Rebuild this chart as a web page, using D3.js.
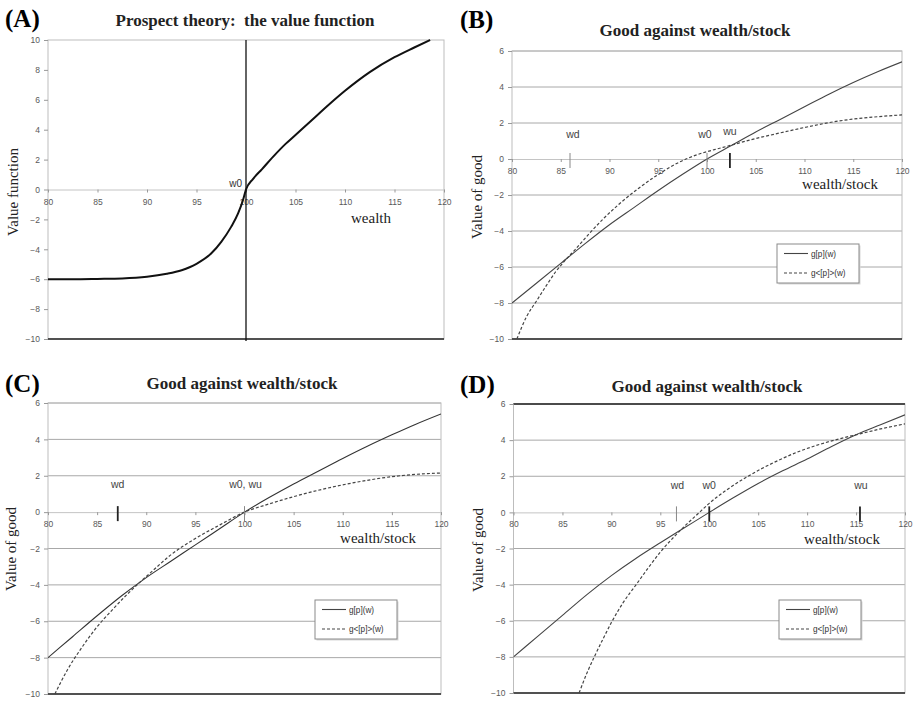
<!DOCTYPE html>
<html>
<head>
<meta charset="utf-8">
<script src="https://cdn.jsdelivr.net/npm/d3@7/dist/d3.min.js"></script>
<style>
  body { margin: 0; background: #fff; }
  svg { display: block; }
</style>
</head>
<body>
<svg id="fig" width="914" height="701"></svg>
<script>
// ---- data ----
var xTicks = [80, 85, 90, 95, 100, 105, 110, 115, 120];
var yTicksA = [-10, -8, -6, -4, -2, 0, 2, 4, 6, 8, 10];
var yTicksGood = [-10, -8, -6, -4, -2, 0, 2, 4, 6];

// (A) value function
var wealthA = [80, 82.5, 85, 87.5, 90, 92, 93.5, 94.3, 95, 96.5, 97.5, 98.5, 99.2, 99.7, 100, 100.7, 101.6, 102.75, 104, 105, 106.5, 108.5, 110, 112.5, 115, 117, 118.6];
var valueA = [-6, -6, -5.98, -5.95, -5.84, -5.64, -5.4, -5.2, -4.97, -4.27, -3.5, -2.5, -1.6, -0.7, 0, 0.7, 1.35, 2.2, 3.05, 3.65, 4.55, 5.75, 6.6, 7.85, 8.85, 9.5, 10];

// grid of wealth for the g[p](w) curves
var wealthGrid = [80, 82.5, 85, 87.5, 90, 92.5, 95, 97.5, 100, 102.5, 105, 107.5, 110, 112.5, 115, 117.5, 120];

// (B)
var goodB = [-8, -6.9, -5.8, -4.7, -3.65, -2.7, -1.75, -0.85, 0, 0.75, 1.5, 2.2, 2.9, 3.6, 4.25, 4.85, 5.4];
var avgWealthB = [80.5, 81.5, 82.5, 83.5, 84.5, 85.5, 86.5, 88, 89.5, 91, 93, 95, 97, 99, 100.75, 102.3, 104.5, 107.5, 110, 112.5, 115, 117.5, 120];
var avgGoodB = [-10, -8.75, -7.9, -7.05, -6.25, -5.6, -5.02, -4.1, -3.25, -2.5, -1.62, -0.86, -0.22, 0.24, 0.52, 0.74, 1.07, 1.45, 1.75, 2.02, 2.22, 2.35, 2.45];
var markerNamesB = ['wd', 'w0', 'wu'];
var markerWealthB = [85.95, 100, 102.35];

// (C)
var goodC = [-8, -6.85, -5.7, -4.6, -3.6, -2.7, -1.8, -0.9, 0, 0.8, 1.55, 2.25, 2.95, 3.62, 4.25, 4.85, 5.4];
var avgWealthC = [80.7, 82, 83.5, 85, 86.5, 88, 89.3, 90.5, 92.5, 95, 97.5, 100, 102.5, 105, 107.5, 110, 112.5, 115, 117.5, 120];
var avgGoodC = [-10, -8.65, -7.4, -6.3, -5.4, -4.55, -3.88, -3.3, -2.35, -1.45, -0.7, 0, 0.45, 0.85, 1.2, 1.5, 1.75, 1.95, 2.08, 2.15];
var markerNamesC = ['wd', 'w0, wu'];
var markerWealthC = [87.1, 100];

// (D)
var goodD = [-8, -6.85, -5.7, -4.55, -3.5, -2.55, -1.68, -0.84, 0, 0.82, 1.6, 2.3, 2.95, 3.65, 4.3, 4.85, 5.4];
var avgWealthD = [86.7, 87.5, 88.3, 89.2, 90, 91.2, 92.6, 93.8, 95.15, 96.5, 97.7, 98.9, 100, 101.8, 103.8, 106.6, 109.3, 111.5, 113.5, 115.4, 117.5, 120];
var avgGoodD = [-10, -8.9, -7.95, -6.95, -6.1, -5.0, -3.95, -3.05, -2.1, -1.3, -0.65, -0.05, 0.5, 1.25, 1.95, 2.76, 3.4, 3.8, 4.1, 4.35, 4.62, 4.9];
var markerNamesD = ['wd', 'w0', 'wu'];
var markerWealthD = [96.65, 100, 115.4];

var legendNames = ['g[p](w)', 'g<[p]>(w)'];

// ---- drawing ----
var svg = d3.select('#fig');
var SERIF = '"Liberation Serif", "Times New Roman", serif';
var SANS = '"Liberation Sans", Arial, sans-serif';

function zip(xs, ys) {
  return xs.map(function (v, i) { return [v, ys[i]]; });
}

function drawPanel(p) {
  var x = d3.scaleLinear().domain([80, 120]).range([p.x0, p.x1]);
  var y = d3.scaleLinear().domain(p.yDomain).range([p.y1, p.y0]);
  var g = svg.append('g');

  g.append('clipPath').attr('id', 'clip-' + p.id)
    .append('rect')
    .attr('x', p.x0).attr('y', p.y0 - 1)
    .attr('width', p.x1 - p.x0).attr('height', p.y1 - p.y0 + 2);

  // horizontal gridlines
  if (p.grid) {
    g.selectAll('line.grid')
      .data(p.yTicks.filter(function (v) { return v !== 0 && v !== p.yDomain[0]; }))
      .enter().append('line')
      .attr('x1', p.x0).attr('x2', p.x1)
      .attr('y1', function (d) { return y(d); })
      .attr('y2', function (d) { return y(d); })
      .attr('stroke', function (d) { return d === p.yDomain[1] && p.darkTop ? '#333' : '#a8a8a8'; })
      .attr('stroke-width', function (d) { return d === p.yDomain[1] && p.darkTop ? 1.4 : 1; });
  }

  // plot frame
  g.append('rect')
    .attr('x', p.x0).attr('y', p.y0)
    .attr('width', p.x1 - p.x0).attr('height', p.y1 - p.y0)
    .attr('fill', 'none').attr('stroke', '#bdbdbd');
  if (p.darkTop) {
    g.append('line').attr('x1', p.x0).attr('x2', p.x1)
      .attr('y1', p.y0).attr('y2', p.y0)
      .attr('stroke', '#333').attr('stroke-width', 1.4);
  }
  g.append('line')
    .attr('x1', p.x0).attr('x2', p.x1)
    .attr('y1', y(p.yDomain[0])).attr('y2', y(p.yDomain[0]))
    .attr('stroke', '#222').attr('stroke-width', 1.6);

  // y axis
  var ya = g.append('g')
    .attr('transform', 'translate(' + p.x0 + ',0)')
    .call(d3.axisLeft(y).tickValues(p.yTicks).tickSize(4).tickPadding(4).tickSizeOuter(0));
  ya.select('.domain').remove();
  ya.selectAll('line').attr('stroke', '#999');
  ya.selectAll('text').attr('font-family', SANS).attr('font-size', 8.5).attr('fill', '#595959');

  // x axis through zero
  var xa = g.append('g')
    .attr('transform', 'translate(0,' + y(0) + ')')
    .call(d3.axisBottom(x).tickValues(xTicks).tickSize(3).tickPadding(6).tickSizeOuter(0));
  xa.select('.domain').attr('stroke', '#c4c4c4');
  xa.selectAll('line').attr('stroke', '#999');
  xa.selectAll('text').attr('font-family', SANS).attr('font-size', 8.5).attr('fill', '#595959');

  var line = d3.line()
    .x(function (d) { return x(d[0]); })
    .y(function (d) { return y(d[1]); })
    .curve(d3.curveMonotoneX);

  var curves = g.append('g').attr('clip-path', 'url(#clip-' + p.id + ')');
  p.series.forEach(function (s) {
    curves.append('path')
      .datum(zip(s.xs, s.ys))
      .attr('d', line)
      .attr('fill', 'none')
      .attr('stroke', s.color)
      .attr('stroke-width', s.width)
      .attr('stroke-dasharray', s.dash || null);
  });

  // reference line at w0 (panel A)
  if (p.w0Line) {
    g.append('line')
      .attr('x1', x(100)).attr('x2', x(100))
      .attr('y1', p.y0).attr('y2', p.y1 + 2)
      .attr('stroke', '#111').attr('stroke-width', 1.3);
    g.append('text')
      .attr('x', x(100) - 4).attr('y', y(0) - 3)
      .attr('text-anchor', 'end')
      .attr('font-family', SANS).attr('font-size', 10).attr('fill', '#333')
      .text('w0');
  }

  // markers wd / w0 / wu
  if (p.markers) {
    p.markers.names.forEach(function (name, i) {
      var wx = x(p.markers.wealth[i]);
      var heavy = p.markers.heavy[i];
      g.append('line')
        .attr('x1', wx).attr('x2', wx)
        .attr('y1', y(0) - 6).attr('y2', y(0) + 9)
        .attr('stroke', heavy ? '#222' : '#888')
        .attr('stroke-width', heavy ? 1.8 : 1);
      g.append('text')
        .attr('x', wx + (p.markers.dx ? p.markers.dx[i] : 0))
        .attr('y', y(0) - p.markers.lift[i])
        .attr('text-anchor', 'middle')
        .attr('font-family', SANS).attr('font-size', 10.5).attr('fill', '#444')
        .text(name);
    });
  }

  // legend
  if (p.legend) {
    var L = p.legend;
    var lg = g.append('g').attr('transform', 'translate(' + L.x + ',' + L.y + ')');
    lg.append('rect').attr('x', 1.5).attr('y', 1.5).attr('width', 82).attr('height', 39)
      .attr('fill', '#d8d8d8');
    lg.append('rect').attr('width', 82).attr('height', 39)
      .attr('fill', '#fff').attr('stroke', '#8a8a8a');
    legendNames.forEach(function (name, i) {
      var ly = 9.5 + i * 19.5;
      lg.append('line').attr('x1', 7).attr('x2', 31).attr('y1', ly).attr('y2', ly)
        .attr('stroke', '#444').attr('stroke-width', 1.1)
        .attr('stroke-dasharray', i === 1 ? '3,2' : null);
      lg.append('text').attr('x', 34).attr('y', ly + 3)
        .attr('font-family', SANS).attr('font-size', 8.2).attr('fill', '#333')
        .text(name);
    });
  }

  // texts
  svg.append('text').attr('x', p.letter[0]).attr('y', p.letter[1])
    .attr('font-family', SERIF).attr('font-weight', 'bold').attr('font-size', 25)
    .text(p.letterText);
  svg.append('text').attr('x', p.title[0]).attr('y', p.title[1])
    .attr('text-anchor', 'middle')
    .attr('font-family', SERIF).attr('font-weight', 'bold').attr('font-size', 17)
    .attr('fill', '#222')
    .text(p.titleText);
  svg.append('text')
    .attr('transform', 'translate(' + p.ylab[0] + ',' + p.ylab[1] + ') rotate(-90)')
    .attr('text-anchor', 'middle')
    .attr('font-family', SERIF).attr('font-size', 15).attr('fill', '#222')
    .text(p.ylabText);
  svg.append('text').attr('x', p.xlab[0]).attr('y', p.xlab[1])
    .attr('text-anchor', 'middle')
    .attr('font-family', SERIF).attr('font-size', 15).attr('fill', '#222')
    .text(p.xlabText);
}

drawPanel({
  id: 'A', x0: 48, x1: 444, y0: 40, y1: 339, yDomain: [-10, 10], yTicks: yTicksA,
  grid: false, w0Line: true,
  series: [{ xs: wealthA, ys: valueA, color: '#111', width: 2 }],
  letterText: '(A)', letter: [5, 27],
  titleText: 'Prospect theory:\u00a0 the value function', title: [245, 26],
  ylabText: 'Value function', ylab: [18, 192],
  xlabText: 'wealth', xlab: [371, 223]
});

drawPanel({
  id: 'B', x0: 512, x1: 902, y0: 51, y1: 339, yDomain: [-10, 6], yTicks: yTicksGood,
  grid: true,
  series: [
    { xs: wealthGrid, ys: goodB, color: '#444', width: 1.1 },
    { xs: avgWealthB, ys: avgGoodB, color: '#444', width: 1.2, dash: '3,2' }
  ],
  markers: { names: markerNamesB, wealth: markerWealthB, heavy: [false, false, true], lift: [21, 21, 24], dx: [3, -2, 0] },
  legend: { x: 777, y: 244 },
  letterText: '(B)', letter: [460, 28],
  titleText: 'Good against wealth/stock', title: [695, 36],
  ylabText: 'Value of good', ylab: [482, 197],
  xlabText: 'wealth/stock', xlab: [840, 189]
});

drawPanel({
  id: 'C', x0: 48, x1: 441, y0: 403, y1: 694, yDomain: [-10, 6], yTicks: yTicksGood,
  grid: true,
  series: [
    { xs: wealthGrid, ys: goodC, color: '#333', width: 1.1 },
    { xs: avgWealthC, ys: avgGoodC, color: '#444', width: 1.2, dash: '3,2' }
  ],
  markers: { names: markerNamesC, wealth: markerWealthC, heavy: [true, false], lift: [24, 24], dx: [0, 1] },
  legend: { x: 315, y: 600 },
  letterText: '(C)', letter: [5, 392],
  titleText: 'Good against wealth/stock', title: [242, 389],
  ylabText: 'Value of good', ylab: [16, 549],
  xlabText: 'wealth/stock', xlab: [378, 543]
});

drawPanel({
  id: 'D', x0: 513.5, x1: 905, y0: 404, y1: 693, yDomain: [-10, 6], yTicks: yTicksGood,
  grid: true, darkTop: true,
  series: [
    { xs: wealthGrid, ys: goodD, color: '#444', width: 1.1 },
    { xs: avgWealthD, ys: avgGoodD, color: '#444', width: 1.2, dash: '3,2' }
  ],
  markers: { names: markerNamesD, wealth: markerWealthD, heavy: [false, true, true], lift: [23, 23, 23], dx: [1, 0, 1] },
  legend: { x: 779, y: 600 },
  letterText: '(D)', letter: [460, 393],
  titleText: 'Good against wealth/stock', title: [707, 392],
  ylabText: 'Value of good', ylab: [483, 550],
  xlabText: 'wealth/stock', xlab: [842, 544]
});
</script>
</body>
</html>
